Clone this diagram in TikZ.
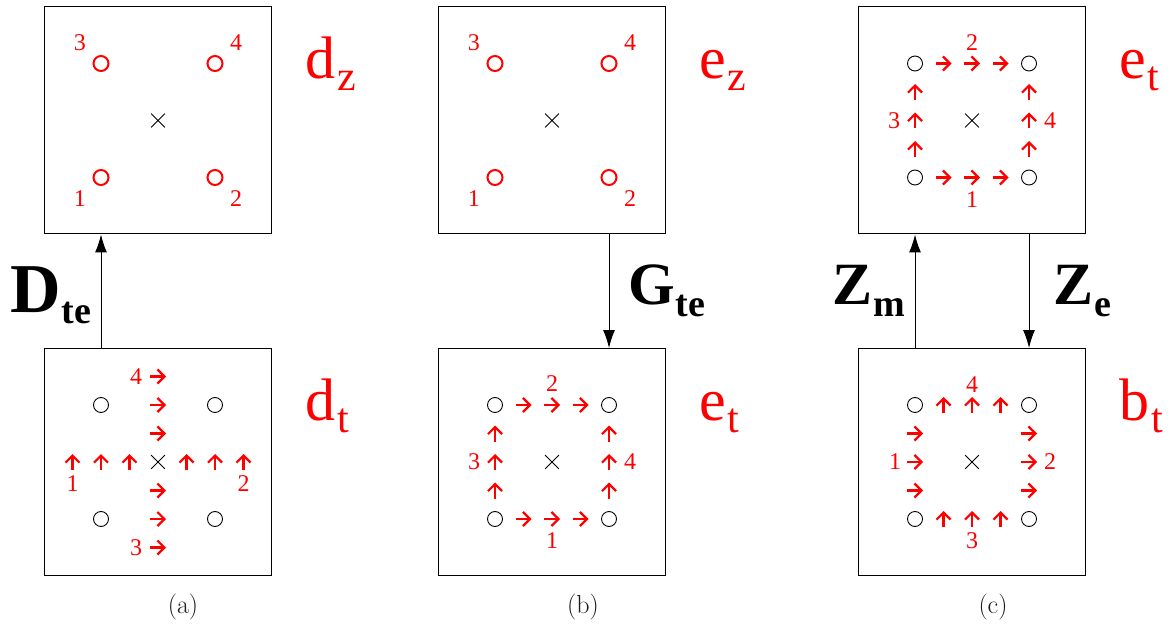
\documentclass[tikz,border=0pt]{standalone}
\usepackage{fontspec}
\usetikzlibrary{arrows.meta,calc,positioning,shapes.misc}
\newfontfamily\timesfont{Liberation Serif}
\definecolor{FieldRed}{HTML}{FF0000}
\definecolor{CapGray}{HTML}{1A1A1A}
\newcommand{\lowsub}[3][42]{\kern#2pt\raisebox{-12pt}{\fontsize{#1}{#1}\selectfont #3}}

\begin{document}
\begin{tikzpicture}[x=1pt,y=-1pt,
    panel/.style={draw,line width=1pt,minimum width=227pt,minimum height=227pt,inner sep=0pt},
    hole/.style={circle,draw,line width=0.9pt,minimum size=15pt,inner sep=0pt},
    redhole/.style={hole,draw=FieldRed,line width=2pt},
    axis/.style={cross out,draw,line width=0.8pt,minimum size=13pt,inner sep=0pt},
    num/.style={text=FieldRed,font=\timesfont\fontsize{24}{24}\selectfont,inner sep=0pt},
    flow/.style={FieldRed,line width=2.2pt,-{Straight Barb[length=7pt,width=14pt]}},
    link/.style={line width=1pt,-{Latex[length=18pt,width=12pt]}},
    field/.style={text=FieldRed,font=\timesfont\fontsize{60}{60}\selectfont,anchor=base west,inner sep=0pt},
    matrix/.style={font=\timesfont\bfseries\fontsize{60}{60}\selectfont,anchor=base west,inner sep=0pt},
    caption/.style={font=\fontsize{26}{26}\selectfont,text=CapGray}]
  \useasboundingbox (0,0) rectangle (1172,628);

  % (a) top: red holes
  \begin{scope}[shift={(158,120.5)}]
    \node[panel] (atop) at (0,0) {};
    \node[axis] (atop-o) at (0,0) {};
    \foreach \n/\x/\y in {1/-57/57,2/57/57,3/-57/-57,4/57/-57}{
      \node[redhole] (atop-\n) at (\x,\y) {};
      \node[num] at (\x*1.37,\y*1.37) {\n};
    }
    \node[field] (atop-lab) at (147,-42) {d\lowsub{2}{z}};
  \end{scope}

  % (a) bottom: cross of arrows
  \begin{scope}[shift={(158,462)}]
    \node[panel] (abot) at (0,0) {};
    \node[axis] (abot-o) at (0,0) {};
    \foreach \n/\x/\y in {1/-57/57,2/57/57,3/-57/-57,4/57/-57}
      \node[hole] (abot-\n) at (\x,\y) {};
    \foreach \d in {-85.5,-57,-28.5,28.5,57,85.5}{
      \draw[flow] (\d,8) -- (\d,-8);
      \draw[flow] (-8,\d) -- (8,\d);
    }
    \node[num] at (-85.5,22) {1};
    \node[num] at (85.5,22) {2};
    \node[num] at (-22,85.5) {3};
    \node[num] at (-22,-85.5) {4};
    \node[field] (abot-lab) at (147,-42) {d\lowsub{2}{t}};
  \end{scope}

  % (b) top: red holes
  \begin{scope}[shift={(552,120.5)}]
    \node[panel] (btop) at (0,0) {};
    \node[axis] (btop-o) at (0,0) {};
    \foreach \n/\x/\y in {1/-57/57,2/57/57,3/-57/-57,4/57/-57}{
      \node[redhole] (btop-\n) at (\x,\y) {};
      \node[num] at (\x*1.37,\y*1.37) {\n};
    }
    \node[field] (btop-lab) at (147,-42) {e\lowsub{2}{z}};
  \end{scope}

  % (b) bottom: loop
  \begin{scope}[shift={(552,462)}]
    \node[panel] (bbot) at (0,0) {};
    \node[axis] (bbot-o) at (0,0) {};
    \foreach \n/\x/\y in {1/-57/57,2/57/57,3/-57/-57,4/57/-57}
      \node[hole] (bbot-\n) at (\x,\y) {};
    \foreach \d in {-28.5,0,28.5}{
      \draw[flow] (\d-8,57) -- (\d+8,57);
      \draw[flow] (\d-8,-57) -- (\d+8,-57);
      \draw[flow] (-57,\d+8) -- (-57,\d-8);
      \draw[flow] (57,\d+8) -- (57,\d-8);
    }
    \node[num] at (0,79) {1};
    \node[num] at (0,-78) {2};
    \node[num] at (-78,0) {3};
    \node[num] at (78,0) {4};
    \node[field] (bbot-lab) at (147,-42) {e\lowsub{2}{t}};
  \end{scope}

  % (c) top: loop
  \begin{scope}[shift={(972,120.5)}]
    \node[panel] (ctop) at (0,0) {};
    \node[axis] (ctop-o) at (0,0) {};
    \foreach \n/\x/\y in {1/-57/57,2/57/57,3/-57/-57,4/57/-57}
      \node[hole] (ctop-\n) at (\x,\y) {};
    \foreach \d in {-28.5,0,28.5}{
      \draw[flow] (\d-8,57) -- (\d+8,57);
      \draw[flow] (\d-8,-57) -- (\d+8,-57);
      \draw[flow] (-57,\d+8) -- (-57,\d-8);
      \draw[flow] (57,\d+8) -- (57,\d-8);
    }
    \node[num] at (0,79) {1};
    \node[num] at (0,-78) {2};
    \node[num] at (-78,0) {3};
    \node[num] at (78,0) {4};
    \node[field] (ctop-lab) at (147,-42) {e\lowsub{2}{t}};
  \end{scope}

  % (c) bottom: rotated loop
  \begin{scope}[shift={(972,462)}]
    \node[panel] (cbot) at (0,0) {};
    \node[axis] (cbot-o) at (0,0) {};
    \foreach \n/\x/\y in {1/-57/57,2/57/57,3/-57/-57,4/57/-57}
      \node[hole] (cbot-\n) at (\x,\y) {};
    \foreach \d in {-28.5,0,28.5}{
      \draw[flow] (\d,65) -- (\d,49);
      \draw[flow] (\d,-49) -- (\d,-65);
      \draw[flow] (-65,\d) -- (-49,\d);
      \draw[flow] (49,\d) -- (65,\d);
    }
    \node[num] at (-77,0) {1};
    \node[num] at (78,0) {2};
    \node[num] at (0,79) {3};
    \node[num] at (0,-77) {4};
    \node[field] (cbot-lab) at (147,-42) {b\lowsub{2}{t}};
  \end{scope}

  % operators between panels
  \draw[link] (abot.north -| abot-3) -- (atop.south -| abot-3);
  \draw[link] (btop.south -| btop-2) -- (bbot.north -| btop-2);
  \draw[link] (cbot.north -| cbot-3) -- (ctop.south -| cbot-3);
  \draw[link] (ctop.south -| ctop-2) -- (cbot.north -| ctop-2);
  \node[matrix,font=\timesfont\bfseries\fontsize{70}{70}\selectfont] (dte) at (10,312) {D\lowsub[38]{1}{te}};
  \node[matrix] (gte) at (628,305) {G\lowsub[38]{1}{te}};
  \node[matrix] (zm) at (832,305) {Z\lowsub[38]{1}{m}};
  \node[matrix] (ze) at (1053,305) {Z\lowsub[38]{1}{e}};

  \node[caption] (cap-a) at (183,607) {(a)};
  \node[caption] (cap-b) at (583,607) {(b)};
  \node[caption] (cap-c) at (993,607) {(c)};
\end{tikzpicture}
\end{document}
